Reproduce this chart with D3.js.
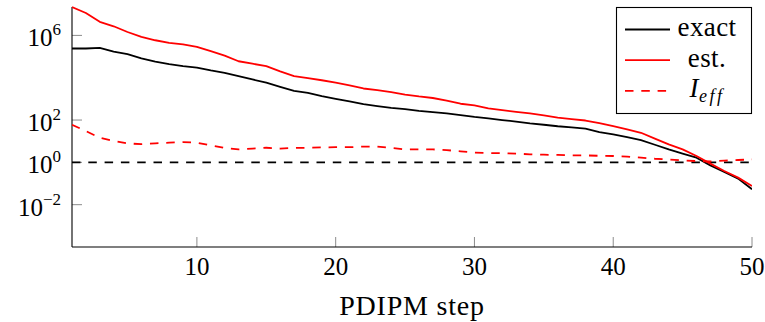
<!DOCTYPE html>
<html>
<head>
<meta charset="utf-8">
<script src="https://cdn.jsdelivr.net/npm/d3@7"></script>
<style>
  body { margin: 0; background: #fff; }
</style>
</head>
<body>
<div id="chart"></div>
<script>
// PDIPM steps 1..50
const steps = d3.range(1, 51);

const exact = [
  2.4e5, 2.4e5, 2.6e5, 1.7e5, 1.3e5, 8.3e4, 5.8e4, 4.4e4, 3.5e4, 3.0e4,
  2.2e4, 1.7e4, 1.2e4, 8.3e3, 5.8e3, 3.7e3, 2.4e3, 1.9e3, 1.35e3, 1.0e3,
  760, 560, 460, 380, 330, 270, 235, 205, 170, 140,
  120, 100, 85, 69, 60, 51, 45, 39, 27, 21,
  15.5, 11.2, 6.8, 4.1, 2.6, 1.66, 0.72, 0.35, 0.17, 0.054
];

const est = [
  2.2e7, 1.15e7, 4.4e6, 2.7e6, 1.45e6, 8.5e5, 5.9e5, 4.4e5, 3.8e5, 2.9e5,
  1.8e5, 1.1e5, 6.0e4, 4.6e4, 3.5e4, 2.0e4, 1.2e4, 9.5e3, 7.6e3, 5.8e3,
  4.3e3, 3.1e3, 2.6e3, 2.1e3, 1.6e3, 1.3e3, 1.1e3, 830, 590, 490,
  355, 295, 245, 205, 165, 130, 110, 95, 71, 51,
  36, 25, 13.2, 7.1, 4.1, 2.0, 0.87, 0.39, 0.19, 0.076
];

const ieff = [
  60, 30, 14.5, 10.2, 7.9, 7.2, 7.9, 8.5, 9.1, 8.5,
  6.3, 4.8, 4.1, 4.5, 4.9, 4.5, 4.8, 4.9, 5.1, 5.2,
  5.2, 5.6, 5.6, 4.8, 4.1, 4.1, 4.1, 3.8, 3.3, 2.9,
  2.75, 2.7, 2.6, 2.4, 2.3, 2.24, 2.14, 2.14, 2.04, 2.0,
  1.86, 1.66, 1.48, 1.38, 1.23, 1.15, 1.10, 1.2, 1.29, 1.38
];

const xTicks = [10, 20, 30, 40, 50];
const yTicks = [1e-2, 1, 1e2, 1e6];
const yTickExp = ["\u22122", "0", "2", "6"];

const width = 765, height = 322;
const margin = { top: 7, right: 13, bottom: 75, left: 72 };
const serif = "'Liberation Serif'";

const svg = d3.select("#chart").append("svg")
  .attr("width", width)
  .attr("height", height)
  .style("display", "block");

const x = d3.scaleLinear()
  .domain([1, 50])
  .range([margin.left, width - margin.right]);

const y = d3.scaleLog()
  .domain([1e-4, 2.2e7])
  .range([height - margin.bottom, margin.top]);

svg.append("clipPath").attr("id", "plot-clip")
  .append("rect")
  .attr("x", margin.left)
  .attr("y", margin.top - 2)
  .attr("width", x.range()[1] - margin.left)
  .attr("height", y.range()[0] - margin.top + 2);

// ticks (inside, thin gray)
svg.append("g")
  .selectAll("line")
  .data(xTicks)
  .join("line")
  .attr("x1", d => x(d)).attr("x2", d => x(d))
  .attr("y1", y.range()[0]).attr("y2", y.range()[0] - 10)
  .attr("stroke", "#8c8c8c");

svg.append("g")
  .selectAll("line")
  .data(yTicks)
  .join("line")
  .attr("x1", margin.left).attr("x2", margin.left + 10)
  .attr("y1", d => y(d)).attr("y2", d => y(d))
  .attr("stroke", "#8c8c8c");

// axis lines: left and bottom only
svg.append("line")
  .attr("x1", margin.left).attr("x2", margin.left)
  .attr("y1", margin.top).attr("y2", y.range()[0])
  .attr("stroke", "#000").attr("stroke-width", 1.1);
svg.append("line")
  .attr("x1", margin.left).attr("x2", x.range()[1])
  .attr("y1", y.range()[0]).attr("y2", y.range()[0])
  .attr("stroke", "#000").attr("stroke-width", 1.1);

// tick labels
svg.append("g")
  .selectAll("text")
  .data(xTicks)
  .join("text")
  .style("font-family", serif)
  .attr("x", d => x(d))
  .attr("y", y.range()[0] + 28)
  .attr("text-anchor", "middle")
  .attr("font-size", 25)
  .text(d => d);

const yl = svg.append("g")
  .selectAll("text")
  .data(yTicks)
  .join("text")
  .style("font-family", serif)
  .attr("x", 61)
  .attr("y", d => y(d) + 11)
  .attr("text-anchor", "end")
  .attr("font-size", 25);
yl.append("tspan").text("10");
yl.append("tspan")
  .attr("dy", -11)
  .attr("font-size", 17)
  .text((d, i) => yTickExp[i]);

// x axis label
svg.append("text")
  .style("font-family", serif)
  .attr("x", (x.range()[0] + x.range()[1]) / 2)
  .attr("y", 315)
  .attr("text-anchor", "middle")
  .attr("font-size", 28)
  .attr("letter-spacing", 0.8)
  .text("PDIPM step");

const plot = svg.append("g").attr("clip-path", "url(#plot-clip)");

// reference line at 1
plot.append("line")
  .attr("x1", margin.left).attr("x2", x.range()[1])
  .attr("y1", y(1)).attr("y2", y(1))
  .attr("stroke", "#000")
  .attr("stroke-width", 1.7)
  .attr("stroke-dasharray", "8.5,7.8");

const line = d3.line()
  .x((d, i) => x(steps[i]))
  .y(d => y(d));

const series = [
  { name: "exact", values: exact, color: "#000", dash: null },
  { name: "est.", values: est, color: "#ff0000", dash: null },
  { name: "ieff", values: ieff, color: "#ff0000", dash: "8.5,7.8" }
];

plot.selectAll("path.series")
  .data(series)
  .join("path")
  .attr("class", "series")
  .attr("fill", "none")
  .attr("stroke", d => d.color)
  .attr("stroke-width", 1.8)
  .attr("stroke-linejoin", "round")
  .attr("stroke-dasharray", d => d.dash)
  .attr("d", d => line(d.values));

// legend
const legend = svg.append("g");
legend.append("rect")
  .attr("x", 616.5).attr("y", 7.5)
  .attr("width", 135).attr("height", 106)
  .attr("fill", "#fff")
  .attr("stroke", "#000")
  .attr("stroke-width", 1.1);

const rows = legend.selectAll("g.row")
  .data(series)
  .join("g")
  .attr("class", "row")
  .attr("transform", (d, i) => `translate(0,${29.5 + i * 30.7})`);

rows.append("line")
  .attr("x1", 625).attr("x2", 670)
  .attr("stroke", d => d.color)
  .attr("stroke-width", 1.8)
  .attr("stroke-dasharray", d => d.dash);

rows.each(function (d) {
  const t = d3.select(this).append("text")
    .style("font-family", serif)
    .attr("x", 707)
    .attr("y", 6.5)
    .attr("text-anchor", "middle")
    .attr("font-size", 27)
    .attr("letter-spacing", 0.4);
  if (d.name === "ieff") {
    t.append("tspan").attr("font-style", "italic").text("I");
    t.append("tspan").attr("font-style", "italic")
      .attr("font-size", 18).attr("dy", 5).attr("letter-spacing", 2.5).text("eff");
  } else {
    t.text(d.name);
  }
});
</script>
</body>
</html>
